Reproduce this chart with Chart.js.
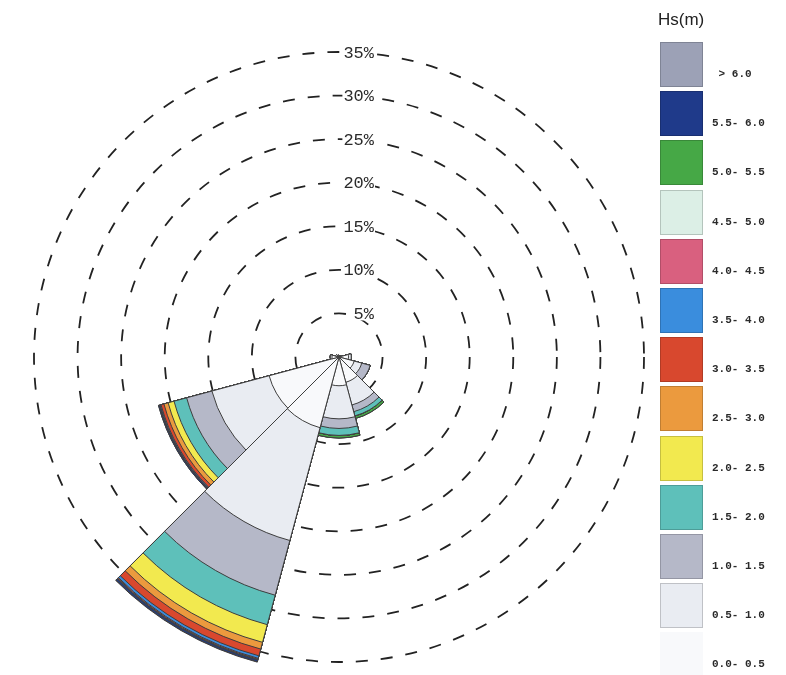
<!DOCTYPE html>
<html>
<head>
<meta charset="utf-8">
<script src="https://cdn.jsdelivr.net/npm/chart.js@4/dist/chart.umd.min.js"></script>
<style>
  html, body { margin: 0; padding: 0; background: #fff; }
  #wrap { position: relative; width: 786px; height: 675px; overflow: hidden; }
  #rose { position: absolute; left: 0; top: 0; }
  #legend-title { position: absolute; left: 658px; top: 10px; font: 17px "Liberation Sans", Arial, sans-serif; color: #222; }
  .swatch { position: absolute; left: 660px; width: 43px; height: 45px; box-sizing: border-box; border: 1px solid rgba(0,0,0,0.18); }
  .swatch-label { position: absolute; left: 712px; font: bold 11px "Liberation Mono", "Courier New", monospace; color: #2a2a2a; white-space: pre; line-height: 12px; }
</style>
</head>
<body>
<div id="wrap">
  <canvas id="rose" width="786" height="675"></canvas>
  <div id="legend-title">Hs(m)</div>
  <div id="legend"></div>
</div>
<script>
// Direction sectors (bearing of sector centre, 30° wide)
const directions = ['0°', '30°', '60°', '90°', '120°', '150°', '180°', '210°', '240°', '270°', '300°', '330°'];

// Significant wave height classes, lowest first
const bandLabels = ['0.0- 0.5', '0.5- 1.0', '1.0- 1.5', '1.5- 2.0', '2.0- 2.5', '2.5- 3.0',
                    '3.0- 3.5', '3.5- 4.0', '4.0- 4.5', '4.5- 5.0', '5.0- 5.5', '5.5- 6.0', ' > 6.0'];

// Occurrence (%) per direction sector for each Hs class
const hs_00_05 = [0.1, 0.1, 0.3, 1.1, 1.8, 3.0, 3.3, 8.4, 8.3, 0.8, 0.4, 0.2];
const hs_05_10 = [0, 0, 0, 0.3, 0.9, 2.7, 3.8, 13.4, 6.8, 0.2, 0, 0];
const hs_10_15 = [0, 0, 0, 0, 1.0, 0.8, 1.1, 6.5, 3.0, 0, 0, 0];
const hs_15_20 = [0, 0, 0, 0, 0, 0.5, 0.8, 3.5, 1.5, 0, 0, 0];
const hs_20_25 = [0, 0, 0, 0, 0, 0, 0, 2.1, 0.7, 0, 0, 0];
const hs_25_30 = [0, 0, 0, 0, 0, 0, 0, 0.8, 0.5, 0, 0, 0];
const hs_30_35 = [0, 0, 0, 0, 0, 0, 0, 0.8, 0.35, 0, 0, 0];
const hs_35_40 = [0, 0, 0, 0, 0, 0, 0, 0.3, 0.1, 0, 0, 0];
const hs_40_45 = [0, 0, 0, 0, 0, 0, 0, 0.1, 0.05, 0, 0, 0];
const hs_45_50 = [0, 0, 0, 0, 0, 0, 0, 0.05, 0, 0, 0, 0];
const hs_50_55 = [0, 0, 0, 0, 0, 0.3, 0.3, 0.05, 0, 0, 0, 0];
const hs_55_60 = [0, 0, 0, 0, 0, 0, 0, 0.2, 0.15, 0, 0, 0];
const hs_gt_60 = [0, 0, 0, 0, 0, 0, 0, 0.05, 0, 0, 0, 0];

// Ring labels (percent of time)
const ringTicks = [5, 10, 15, 20, 25, 30, 35];

const bandValues = [hs_00_05, hs_05_10, hs_10_15, hs_15_20, hs_20_25, hs_25_30, hs_30_35,
                    hs_35_40, hs_40_45, hs_45_50, hs_50_55, hs_55_60, hs_gt_60];

const bandColors = ['#f8f9fb', '#e9ecf2', '#b5b8c8', '#5ec0ba', '#f2e94f', '#eb9a3e', '#d8482e',
                    '#3a8ddd', '#d9607f', '#dcefe6', '#46a846', '#1f3a8a', '#9ca1b6'];

// Each class is drawn as a wedge reaching its cumulative total; lower classes sit on top.
const running = directions.map(() => 0);
const datasets = bandValues.map((vals, i) => {
  const cum = vals.map((v, j) => (running[j] = +(running[j] + v).toFixed(3)));
  return {
    label: bandLabels[i],
    data: cum,
    backgroundColor: bandColors[i],
    borderColor: '#3e3e3e',
    borderWidth: (c) => (c.raw > 0 ? 1 : 0),
    clip: false
  };
});

// Percent labels placed on each ring, just right of the top
const ringLabels = {
  id: 'ringLabels',
  afterDatasetsDraw(chart) {
    const r = chart.scales.r;
    const ctx = chart.ctx;
    ctx.save();
    ctx.font = '17px "Liberation Mono", "Courier New", monospace';
    ctx.textAlign = 'right';
    ctx.textBaseline = 'middle';
    ringTicks.forEach((t) => {
      const y = r.yCenter - r.getDistanceFromCenterForValue(t);
      const x = r.xCenter + 35;
      const txt = t + '%';
      const w = ctx.measureText(txt).width;
      ctx.fillStyle = '#fff';
      ctx.fillRect(x - w - 1, y - 7, w + 2, 14);
      ctx.fillStyle = '#2a2a2a';
      ctx.fillText(txt, x, y + 1);
    });
    ctx.restore();
  }
};

new Chart(document.getElementById('rose'), {
  type: 'polarArea',
  data: { labels: directions, datasets },
  options: {
    responsive: false,
    animation: false,
    layout: { padding: { left: 34, top: 52, right: 142, bottom: 13 } },
    plugins: { legend: { display: false }, tooltip: { enabled: false } },
    scales: {
      r: {
        min: 0,
        max: 35,
        startAngle: -15,
        ticks: { display: false, stepSize: 5 },
        grid: { circular: true, color: '#222', lineWidth: 1.8 },
        border: { dash: [12, 13] },
        angleLines: { display: false },
        pointLabels: { display: false }
      }
    }
  },
  plugins: [ringLabels]
});

// Legend: highest class at the top
const legend = document.getElementById('legend');
for (let k = 0; k < bandLabels.length; k++) {
  const i = bandLabels.length - 1 - k;
  const top = 42 + 49.2 * k;
  const sw = document.createElement('div');
  sw.className = 'swatch';
  sw.style.top = top + 'px';
  sw.style.background = bandColors[i];
  if (i === 0) sw.style.borderColor = 'transparent';
  legend.appendChild(sw);
  const lab = document.createElement('div');
  lab.className = 'swatch-label';
  lab.style.top = (top + 26) + 'px';
  lab.textContent = bandLabels[i];
  legend.appendChild(lab);
}
</script>
</body>
</html>
